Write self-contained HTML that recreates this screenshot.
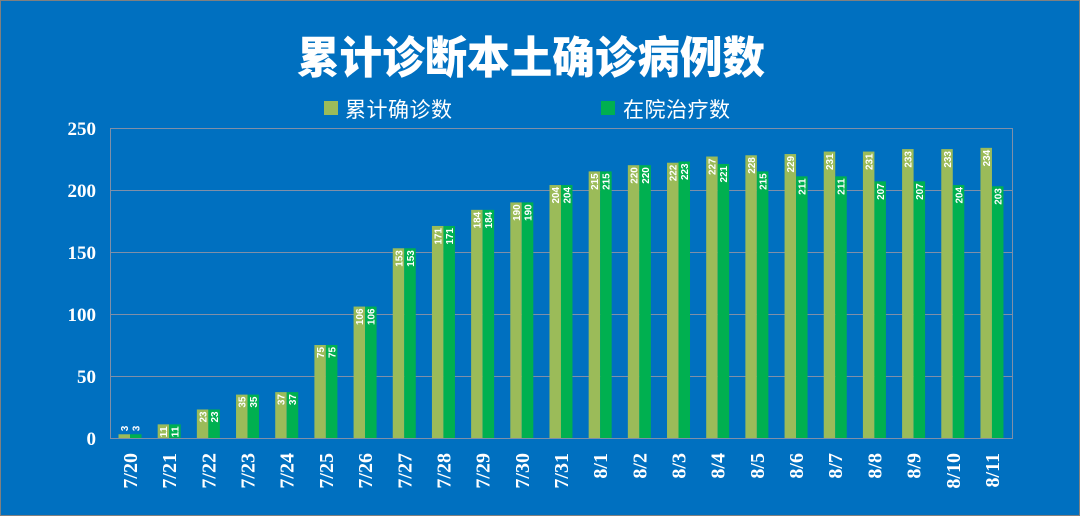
<!DOCTYPE html>
<html><head><meta charset="utf-8"><style>html,body{margin:0;padding:0;background:#0070C0}svg{display:block}</style></head><body>
<svg width="1080" height="516" xmlns="http://www.w3.org/2000/svg">
<rect x="0.5" y="0.5" width="1079" height="515" fill="#0070C0" stroke="#808080"/>
<text x="531" y="73" text-anchor="middle" fill="#fff" font-family="'Noto Sans CJK SC',sans-serif" font-weight="900" font-size="44" textLength="468" lengthAdjust="spacingAndGlyphs">累计诊断本土确诊病例数</text>
<rect x="324" y="101" width="14" height="14" fill="#9BBB59"/>
<text x="345" y="117" fill="#fff" font-family="'Noto Sans CJK SC',sans-serif" font-size="21" textLength="107">累计确诊数</text>
<rect x="601" y="101" width="14" height="14" fill="#00B050"/>
<text x="623" y="117" fill="#fff" font-family="'Noto Sans CJK SC',sans-serif" font-size="21" textLength="107">在院治疗数</text>
<g id="plot"></g>
</svg>
<script>
const a=[3,11,23,35,37,75,106,153,171,184,190,204,215,220,222,227,228,229,231,231,233,233,234];
const b=[3,11,23,35,37,75,106,153,171,184,190,204,215,220,223,221,215,211,211,207,207,204,203];
const L=["7/20","7/21","7/22","7/23","7/24","7/25","7/26","7/27","7/28","7/29","7/30","7/31","8/1","8/2","8/3","8/4","8/5","8/6","8/7","8/8","8/9","8/10","8/11"];
let s='';const y0=438,k=1.24;
s+='<rect x="110.5" y="128.5" width="902" height="310" fill="none" stroke="#7f8fa8"/>';
for(let v=0;v<=250;v+=50){const y=y0-v*k;s+=`<line x1="110" x2="1012" y1="${y+0.5}" y2="${y+0.5}" stroke="#7f8fa8"/>`;
s+=`<text x="96" y="${y+7}" text-anchor="end" fill="#fff" font-family="'Liberation Serif',serif" font-weight="bold" font-size="19">${v}</text>`;}
function lab(x,top,v,h){const above=h<8;const ty=above?top-3:top+2;const anc=above?'start':'end';
return `<text transform="translate(${x+9.5},${ty}) rotate(-90)" text-anchor="${anc}" fill="#fff" font-family="'Liberation Sans',sans-serif" font-weight="bold" font-size="10" textLength="${String(v).length*5.5}" lengthAdjust="spacingAndGlyphs">${v}</text>`;}
for(let i=0;i<23;i++){const c=130+i*39.18;
const ha=a[i]*k,hb=b[i]*k;
s+=`<rect x="${c-11.5}" y="${y0-ha}" width="11.5" height="${ha}" fill="#9BBB59"/>`;
s+=`<rect x="${c}" y="${y0-hb}" width="11.5" height="${hb}" fill="#00B050"/>`;
s+=lab(c-11.5,y0-ha,a[i],ha)+lab(c,y0-hb,b[i],hb);
s+=`<text transform="translate(${c+7},453) rotate(-90)" text-anchor="end" fill="#fff" font-family="'Liberation Serif',serif" font-weight="bold" font-size="20">${L[i]}</text>`;}
document.getElementById('plot').innerHTML=s;
</script>
</body></html>
